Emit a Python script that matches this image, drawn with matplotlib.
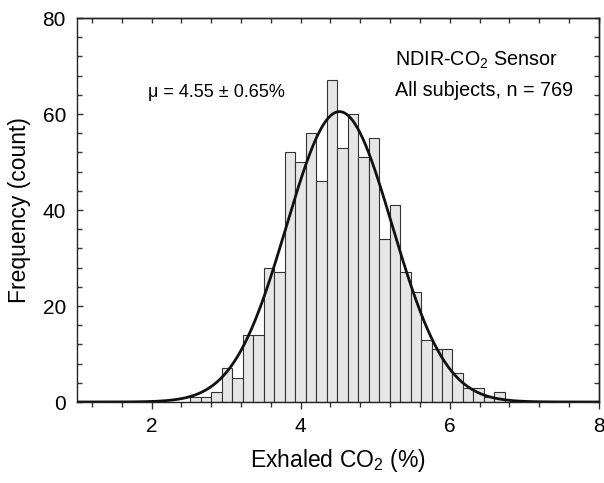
import numpy as np
import matplotlib
matplotlib.use("Agg")
import matplotlib.pyplot as plt
from matplotlib.ticker import MultipleLocator

plt.rcParams['font.family'] = ['Liberation Sans', 'DejaVu Sans']
plt.rcParams['mathtext.fontset'] = 'custom'
plt.rcParams['mathtext.rm'] = 'Liberation Sans'

# Data
counts = [1, 1, 2, 7, 5, 14, 14, 28, 27, 52, 50, 56, 46, 67, 53,
          60, 51, 55, 34, 41, 27, 23, 13, 11, 11, 6, 3, 3, 1, 2]
bin_lo = 2.52
bin_hi = 6.74
fit_mu = 4.52
fit_sigma = 0.71
fit_peak = 60.5
xticks = [2, 4, 6, 8]
yticks = [0, 20, 40, 60, 80]

edges = np.linspace(bin_lo, bin_hi, len(counts) + 1)

fig = plt.figure(figsize=(6.04, 4.83), dpi=100)
ax = fig.add_axes([0.1275, 0.1677, 0.864, 0.795])

ax.bar(edges[:-1], counts, width=np.diff(edges), align='edge',
       color='#e6e6e6', edgecolor='#333333', linewidth=0.8, zorder=2)

xs = np.linspace(1, 8, 600)
ys = fit_peak * np.exp(-(xs - fit_mu) ** 2 / (2 * fit_sigma ** 2))
ax.plot(xs, ys, color='#111111', lw=2.0, zorder=3)

ax.set_xlim(1, 8)
ax.set_ylim(0, 80)
ax.set_xticks(xticks)
ax.set_yticks(yticks)
ax.xaxis.set_minor_locator(MultipleLocator(0.4))
ax.yaxis.set_minor_locator(MultipleLocator(4))

ax.tick_params(axis='x', which='both', direction='out', top=False,
               labelsize=15, width=1, color='#333333', pad=6)
ax.tick_params(axis='x', which='major', length=5)
ax.tick_params(axis='x', which='minor', length=3.5)
ax.tick_params(axis='y', which='both', direction='in', right=False,
               labelsize=15, width=1, color='#333333', pad=8)
ax.tick_params(axis='y', which='major', length=4.5)
ax.tick_params(axis='y', which='minor', length=3.5)

secx = ax.secondary_xaxis('top')
secx.set_xticks(xticks)
secx.xaxis.set_minor_locator(MultipleLocator(0.4))
secx.tick_params(which='both', direction='in', labeltop=False, length=3.5,
                 width=1, color='#333333')
secy = ax.secondary_yaxis('right')
secy.set_yticks(yticks)
secy.yaxis.set_minor_locator(MultipleLocator(4))
secy.tick_params(which='both', direction='in', labelright=False, length=3.5,
                 width=1, color='#333333')
for s in list(ax.spines.values()) + [secx.spines['top'], secy.spines['right']]:
    s.set_linewidth(1.0)
    s.set_color('#222222')

ax.set_xlabel('Exhaled CO$_2$ (%)', fontsize=16.5, labelpad=8)
ax.set_ylabel('Frequency (count)', fontsize=16.5, labelpad=8)

ax.text(1.95, 64.4, 'μ = 4.55 ± 0.65%', fontsize=13, ha='left', va='center')
ax.text(5.26, 71.2, 'NDIR-CO$_2$ Sensor', fontsize=14.2, ha='left', va='center')
ax.text(5.26, 65.0, 'All subjects, n = 769', fontsize=14.2, ha='left', va='center')

fig.savefig('out.png', dpi=100)
